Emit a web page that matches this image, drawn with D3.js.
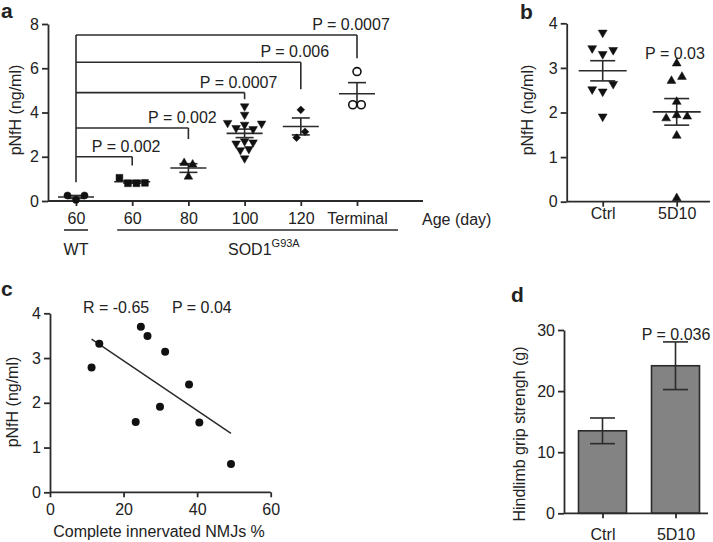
<!DOCTYPE html>
<html><head><meta charset="utf-8">
<script src="https://cdn.jsdelivr.net/npm/d3@7"></script>
<style>
body{margin:0;background:#fff;}
svg text{font-family:"Liberation Sans",Arial,Helvetica,sans-serif;fill:#222;}
</style></head><body>
<svg id="fig" width="713" height="542"></svg>
<script>
// ---------- Panel a data ----------
const aGroups = ["WT60","S60","S80","S100","S120","STerm"];
const aTickLabels = ["60","60","80","100","120","Terminal"];
const aWT60 = [0.25,0.05,0.25];
const aS60 = [1.05,0.8,0.8,0.82];
const aS80 = [1.1,1.72,1.65];
const aS100 = [4.28,3.9,3.53,3.3,3.45,3.25,3.5,2.6,2.7,2.65,2.3,2.35,1.93];
const aS120 = [4.12,2.86,3.13];
const aTerm = [5.85,4.35,4.35];
const aYTicks = [0,2,4,6,8];
const aBracketTargets = ["S60","S80","S100","S120","STerm"];
const aBracketLevels = [2.0,3.3,4.9,6.27,7.5];
const aBracketEnds = [1.6,2.8,4.6,5.05,6.45];
const aPLabels = ["P = 0.002","P = 0.002","P = 0.0007","P = 0.006","P = 0.0007"];
const aBracketBase = 0.85;
// ---------- Panel b data ----------
const bGroups = ["Ctrl","5D10"];
const bCtrl = [3.79,3.44,3.31,3.4,2.52,2.47,2.64,1.91];
const b5D10 = [3.1,2.71,2.8,2.24,1.87,1.94,1.91,1.48,0.08];
const bYTicks = [0,1,2,3,4];
// ---------- Panel c data ----------
const cX = [11.3,13.4,24.7,26.5,31.3,37.8,29.9,23.3,40.6,49.2];
const cY = [2.79,3.32,3.7,3.49,3.14,2.41,1.91,1.57,1.56,0.63];
const cXTicks = [0,20,40,60];
const cYTicks = [0,1,2,3,4];
// ---------- Panel d data ----------
const dGroups = ["Ctrl","5D10"];
const dMeans = [13.5,24.15];
const dSEM = [2.1,3.9];
const dYTicks = [0,10,20,30];

const INK = "#2b2b2b", FS = 16, FONT = '"Liberation Sans",Arial,Helvetica,sans-serif';
const svg = d3.select("#fig");
const fmt = d3.format("d");

function styleAxis(sel){
  sel.attr("font-size",FS).attr("font-family",FONT).attr("color","#222");
  sel.selectAll("path.domain, .tick line").attr("stroke",INK).attr("stroke-width",1.8);
}
function yAxis(scale, x, ticks){
  svg.append("g").attr("transform",`translate(${x},0)`)
    .call(d3.axisLeft(scale).tickValues(ticks).tickFormat(fmt).tickSize(6).tickPadding(3).tickSizeOuter(0))
    .call(styleAxis);
}
function xAxisTicks(scale, y, ticks, f, pad, size){
  const g = svg.append("g").attr("transform",`translate(0,${y})`)
    .call(d3.axisBottom(scale).tickValues(ticks).tickFormat(f).tickSize(size).tickPadding(pad).tickSizeOuter(0))
    .call(styleAxis);
  g.select("path.domain").remove();
  return g;
}
function hline(x1,x2,y,w){ svg.append("line").attr("x1",x1).attr("x2",x2).attr("y1",y).attr("y2",y).attr("stroke",INK).attr("stroke-width",w||1.8); }
function vline(x,y1,y2,w){ svg.append("line").attr("x1",x).attr("x2",x).attr("y1",y1).attr("y2",y2).attr("stroke",INK).attr("stroke-width",w||1.8); }
function label(txt,x,y,opts){
  const t = svg.append("text").attr("x",x).attr("y",y).attr("font-size",(opts&&opts.fs)||FS).text(txt);
  if(opts&&opts.anchor) t.attr("text-anchor",opts.anchor);
  if(opts&&opts.bold) t.attr("font-weight","bold");
  return t;
}
function ylabel(txt,x,y){
  svg.append("text").attr("transform",`translate(${x},${y}) rotate(-90)`).attr("text-anchor","middle").attr("font-size",FS).text(txt);
}
// row-based scatter layout (Prism-like): bins of similar y are centred horizontally
function rowLayout(values, yScale, thr, spacing){
  const idx = values.map((v,i)=>i).sort((a,b)=>values[b]-values[a]);
  const bins=[]; let cur=null;
  idx.forEach(i=>{ const y=yScale(values[i]);
    if(cur && Math.abs(y-cur.y0)<=thr) cur.items.push(i); else { cur={y0:y,items:[i]}; bins.push(cur);} });
  const off=new Array(values.length);
  bins.forEach(b=>{ b.items.sort((a,c)=>a-c); const n=b.items.length;
    b.items.forEach((i,k)=>off[i]=(k-(n-1)/2)*spacing); });
  return off;
}
function meanSem(cx, vals, yScale, halfMean, halfCap){
  const m=d3.mean(vals), s=d3.deviation(vals)/Math.sqrt(vals.length);
  hline(cx-halfMean,cx+halfMean,yScale(m),1.6);
  vline(cx,yScale(m-s),yScale(m+s),1.6);
  hline(cx-halfCap,cx+halfCap,yScale(m+s),1.6);
  hline(cx-halfCap,cx+halfCap,yScale(m-s),1.6);
}
function drawPoints(cx, vals, yScale, thr, spacing, symType, size, rot, open){
  const off = rowLayout(vals,yScale,thr,spacing);
  const sym = d3.symbol().type(symType).size(size);
  vals.forEach((v,i)=>{
    svg.append("path").attr("d",sym())
      .attr("transform",`translate(${cx+off[i]},${yScale(v)}) rotate(${rot})`)
      .attr("fill",open?"#fff":"#111").attr("stroke","#111").attr("stroke-width",open?1.6:0.5);
  });
}

// ================= Panel a =================
const ay = d3.scaleLinear().domain([0,8]).range([201,24]);
const ax = d3.scalePoint().domain(aGroups).range([76,357]);
yAxis(ay,48,aYTicks);
hline(48,423,ay(0));
xAxisTicks(ax,ay(0),aGroups,(d,i)=>aTickLabels[i],7,5);
label("Age (day)",422,225);
ylabel("pNfH (ng/ml)",21,110);
label("a",1,18,{bold:true,fs:21});
// group annotations
hline(ax("WT60")-12,ax("WT60")+12,230,1.6);
hline(ax("S60")-15,ax("STerm")+41,230,1.6);
label("WT",ax("WT60"),255,{anchor:"middle"});
const sod = svg.append("text").attr("x",228).attr("y",255).attr("font-size",FS).text("SOD1");
sod.append("tspan").attr("font-size",11).attr("dy",-8).text("G93A");
// brackets
vline(ax("WT60"),ay(aBracketBase),ay(d3.max(aBracketLevels)),1.6);
aBracketTargets.forEach((t,i)=>{
  hline(ax("WT60"),ax(t),ay(aBracketLevels[i]),1.6);
  vline(ax(t),ay(aBracketLevels[i]),ay(aBracketEnds[i]),1.6);
  label(aPLabels[i],ax(t)-6,ay(aBracketLevels[i])-5,{anchor:"middle"});
});
// mean/SEM + points
const aSeries = [
  {g:"WT60",v:aWT60,s:d3.symbolCircle,size:40,rot:0},
  {g:"S60",v:aS60,s:d3.symbolSquare,size:46,rot:0},
  {g:"S80",v:aS80,s:d3.symbolTriangle,size:32,rot:0},
  {g:"S100",v:aS100,s:d3.symbolTriangle,size:32,rot:180},
  {g:"S120",v:aS120,s:d3.symbolSquare,size:30,rot:45},
  {g:"STerm",v:aTerm,s:d3.symbolCircle,size:50,rot:0,open:true}
];
aSeries.forEach(s=>{
  meanSem(ax(s.g),s.v,ay,18,9);
  drawPoints(ax(s.g),s.v,ay,7,8.5,s.s,s.size,s.rot,s.open);
});

// ================= Panel b =================
const by = d3.scaleLinear().domain([0,4]).range([201.7,23.3]);
const bx = d3.scalePoint().domain(bGroups).range([602.7,676.7]);
yAxis(by,566.7,bYTicks);
hline(566.7,710,by(0));
xAxisTicks(bx,by(0),bGroups,d=>d,1,5);
ylabel("pNfH (ng/ml)",533,110);
label("b",520,18.5,{bold:true,fs:21});
label("P = 0.03",675,59,{anchor:"middle"});
meanSem(bx("Ctrl"),bCtrl,by,24,12.5);
meanSem(bx("5D10"),b5D10,by,24,12.5);
drawPoints(bx("Ctrl"),bCtrl,by,9,10.5,d3.symbolTriangle,34,180);
drawPoints(bx("5D10"),b5D10,by,9,10.5,d3.symbolTriangle,34,0);

// ================= Panel c =================
const cx = d3.scaleLinear().domain([0,60]).range([50,270.7]);
const cy = d3.scaleLinear().domain([0,4]).range([492.3,313.3]);
yAxis(cy,50,cYTicks);
hline(50,270.7,cy(0));
xAxisTicks(cx,cy(0),cXTicks,fmt,6,5);
label("Complete innervated NMJs %",159,537,{anchor:"middle"});
ylabel("pNfH (ng/ml)",18,402);
label("c",1,296,{bold:true,fs:21});
label("R = -0.65",83,313);
label("P = 0.04",172,313);
// least-squares regression line from data
const mx=d3.mean(cX), my=d3.mean(cY);
const slope=d3.sum(cX.map((x,i)=>(x-mx)*(cY[i]-my)))/d3.sum(cX.map(x=>(x-mx)*(x-mx)));
const icpt=my-slope*mx;
const [xmin,xmax]=d3.extent(cX);
svg.append("line").attr("x1",cx(xmin)).attr("y1",cy(icpt+slope*xmin))
  .attr("x2",cx(xmax)).attr("y2",cy(icpt+slope*xmax)).attr("stroke",INK).attr("stroke-width",1.5);
cX.forEach((x,i)=>svg.append("circle").attr("cx",cx(x)).attr("cy",cy(cY[i])).attr("r",4).attr("fill","#111"));

// ================= Panel d =================
const dy = d3.scaleLinear().domain([0,30]).range([513.3,330]);
const dx = d3.scalePoint().domain(dGroups).range([602.5,675.5]);
const barW = 48;
dGroups.forEach((g,i)=>{
  svg.append("rect").attr("x",dx(g)-barW/2).attr("y",dy(dMeans[i])).attr("width",barW)
    .attr("height",dy(0)-dy(dMeans[i])).attr("fill","#838383").attr("stroke",INK).attr("stroke-width",1.6);
});
dGroups.forEach((g,i)=>{
  vline(dx(g),dy(dMeans[i]-dSEM[i]),dy(dMeans[i]+dSEM[i]),1.6);
  hline(dx(g)-12.5,dx(g)+12.5,dy(dMeans[i]+dSEM[i]),1.6);
  hline(dx(g)-12.5,dx(g)+12.5,dy(dMeans[i]-dSEM[i]),1.6);
});
yAxis(dy,564,dYTicks);
hline(564,708,dy(0));
xAxisTicks(dx,dy(0),dGroups,d=>d,10,5);
ylabel("Hindlimb grip strengh (g)",525,434);
label("d",511,302,{bold:true,fs:21});
label("P = 0.036",676,340,{anchor:"middle"});
</script>
</body></html>
